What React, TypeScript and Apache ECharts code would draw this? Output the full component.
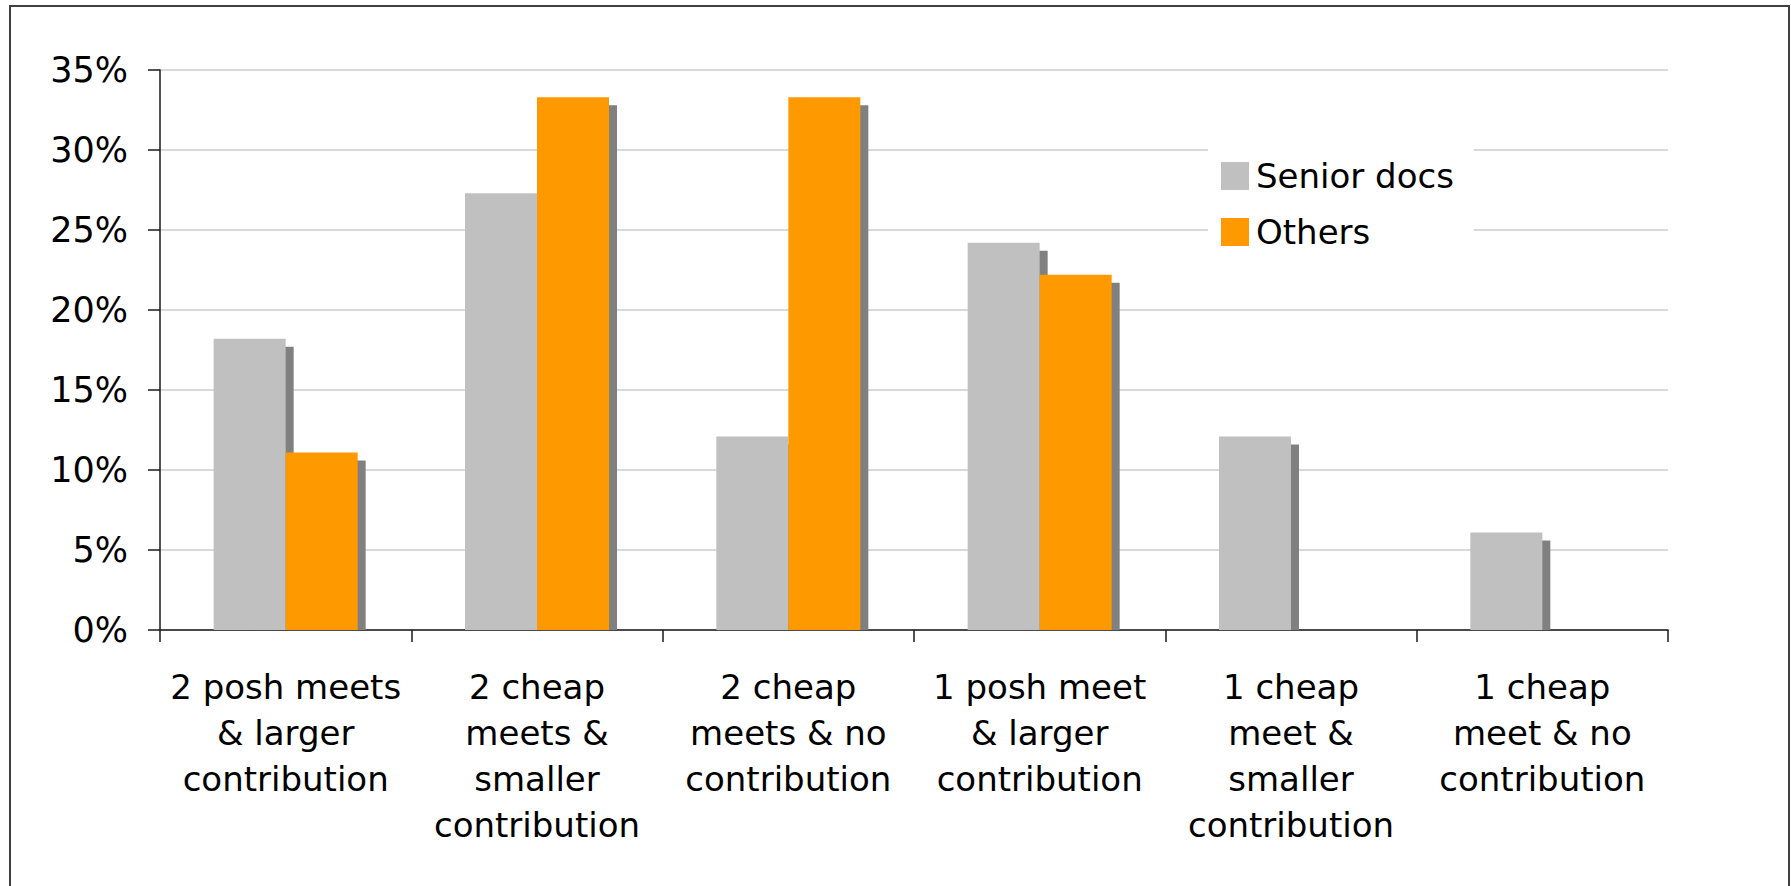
import React, { useEffect, useRef } from "react";
import * as echarts from "echarts";

const categories = [
  "2 posh meets\n& larger\ncontribution",
  "2 cheap\nmeets &\nsmaller\ncontribution",
  "2 cheap\nmeets & no\ncontribution",
  "1 posh meet\n& larger\ncontribution",
  "1 cheap\nmeet &\nsmaller\ncontribution",
  "1 cheap\nmeet & no\ncontribution",
];
const seniorDocs = [0.182, 0.273, 0.121, 0.242, 0.121, 0.061];
const others = [0.111, 0.333, 0.333, 0.222, 0, 0];
const seriesNames = ["Senior docs", "Others"];
const yTicks = { min: 0, max: 0.35, interval: 0.05 };

const FONT = "DejaVu Sans";
const BAR_FRAC = 0.2865;
const SHADOW = 8;

export default function App() {
  const ref = useRef<HTMLDivElement>(null);
  useEffect(() => {
    if (!ref.current) return;
    const chart = echarts.init(ref.current, undefined, { renderer: "svg" });
    const shadowData = categories.map((_, i) => [i, seniorDocs[i], others[i]]);
    chart.setOption({
      animation: false,
      textStyle: { fontFamily: FONT },
      graphic: [
        {
          type: "rect",
          shape: { x: 10, y: 6, width: 1779, height: 920 },
          style: { fill: "none", stroke: "#404040", lineWidth: 2 },
          silent: true,
        },
      ],
      grid: { left: 160, right: 123, top: 70, bottom: 256, containLabel: false },
      legend: {
        data: seriesNames,
        orient: "vertical",
        left: 1208,
        top: 141,
        padding: [18, 20, 22, 13],
        backgroundColor: "#ffffff",
        itemWidth: 28,
        itemHeight: 28,
        itemGap: 22,
        icon: "rect",
        textStyle: {
          fontSize: 34,
          color: "#000",
          fontFamily: FONT,
          padding: [0, 0, 0, 2],
        },
      },
      xAxis: {
        type: "category",
        data: categories,
        axisLine: { show: true, lineStyle: { color: "#1a1a1a", width: 1.5 } },
        axisTick: { show: true, length: 12, lineStyle: { color: "#1a1a1a", width: 1.5 } },
        axisLabel: {
          interval: 0,
          fontSize: 34,
          lineHeight: 46,
          color: "#000",
          margin: 34,
          fontFamily: FONT,
        },
        splitLine: { show: false },
      },
      yAxis: {
        type: "value",
        min: yTicks.min,
        max: yTicks.max,
        interval: yTicks.interval,
        axisLine: { show: true, lineStyle: { color: "#1a1a1a", width: 1.5 } },
        axisTick: { show: true, length: 12, lineStyle: { color: "#1a1a1a", width: 1.5 } },
        axisLabel: {
          fontSize: 35,
          color: "#000",
          margin: 32,
          fontFamily: FONT,
          formatter: (v: number) => Math.round(v * 100) + "%",
        },
        splitLine: { show: true, lineStyle: { color: "#d9d9d9", width: 2 } },
      },
      series: [
        {
          type: "custom",
          name: "shadow",
          z: 1,
          silent: true,
          data: shadowData,
          renderItem: (params: any, api: any) => {
            const i = api.value(0);
            const base = api.coord([i, 0]);
            const catW = api.size([1, 0])[0];
            const barW = catW * BAR_FRAC;
            const children: any[] = [];
            const vals = [api.value(1), api.value(2)];
            vals.forEach((v: number, k: number) => {
              const top = api.coord([i, v])[1];
              const h = base[1] - top - SHADOW;
              if (v > 0 && h > 0) {
                children.push({
                  type: "rect",
                  shape: {
                    x: base[0] - barW + k * barW + SHADOW,
                    y: top + SHADOW,
                    width: barW,
                    height: h,
                  },
                  style: { fill: "#808080" },
                });
              }
            });
            return { type: "group", children };
          },
        },
        {
          type: "bar",
          name: seriesNames[0],
          data: seniorDocs,
          barWidth: (BAR_FRAC * 100).toFixed(2) + "%",
          barGap: "0%",
          z: 2,
          itemStyle: { color: "#c0c0c0" },
        },
        {
          type: "bar",
          name: seriesNames[1],
          data: others,
          barWidth: (BAR_FRAC * 100).toFixed(2) + "%",
          barGap: "0%",
          z: 2,
          itemStyle: { color: "#ff9900" },
        },
      ],
    });
    return () => chart.dispose();
  }, []);
  return (
    <div
      ref={ref}
      style={{ position: "absolute", left: 0, top: 0, width: 1791, height: 886, background: "#fff" }}
    />
  );
}
